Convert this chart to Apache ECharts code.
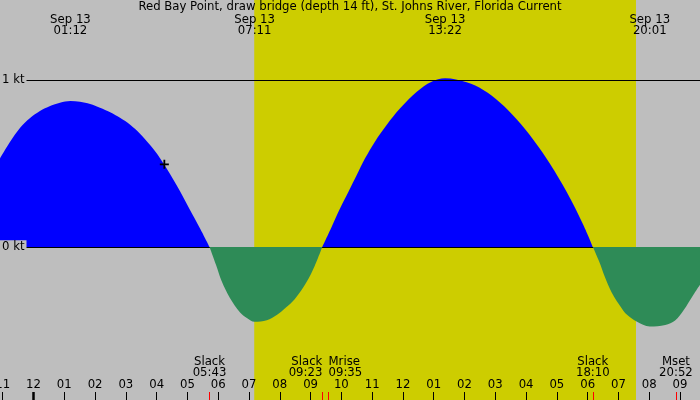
<!DOCTYPE html>
<html><head><meta charset="utf-8">
<script src="https://cdn.jsdelivr.net/npm/echarts@6/dist/echarts.min.js"></script>
<style>html,body{margin:0;padding:0;background:#bebebe}#c{width:700px;height:400px}</style>
</head><body><div id="c"></div>
<script>
// ---- data (hours from midnight, Sep 13) ----
const chartTitle = 'Red Bay Point, draw bridge (depth 14 ft), St. Johns River, Florida Current';
const viewStart = -1.088, viewEnd = 21.649;
const speedMin = -0.916, speedMax = 1.479;
const times = [-1.09,-0.76,-0.44,-0.11,0.21,0.54,0.86,1.20,1.51,1.84,2.16,2.49,2.81,3.14,3.46,3.78,4.11,4.43,4.76,5.08,5.41,5.72,
  5.93,6.11,6.38,6.71,6.93,7.18,7.58,7.90,8.20,8.49,8.87,9.14,9.38,
  9.69,9.96,10.23,10.50,10.77,11.09,11.47,11.91,12.45,12.93,13.37,14.07,14.61,15.15,15.70,16.24,16.78,17.32,17.86,18.17,
  18.38,18.56,18.78,19.11,19.27,19.59,20.02,20.52,20.84,21.11,21.43,21.65];
const knots = [0.53,0.63,0.713,0.772,0.814,0.844,0.864,0.874,0.87,0.856,0.834,0.807,0.774,0.732,0.678,0.612,0.532,0.439,0.334,0.223,0.111,0,
  -0.108,-0.204,-0.305,-0.392,-0.425,-0.448,-0.438,-0.407,-0.362,-0.311,-0.21,-0.111,0,
  0.123,0.232,0.331,0.431,0.531,0.631,0.731,0.831,0.93,0.99,1.01,0.986,0.94,0.865,0.763,0.641,0.497,0.329,0.132,0,
  -0.09,-0.18,-0.272,-0.368,-0.404,-0.446,-0.476,-0.467,-0.44,-0.38,-0.287,-0.225];
const hourTicks = [-1,0,1,2,3,4,5,6,7,8,9,10,11,12,13,14,15,16,17,18,19,20,21];
const hourLabels = ['11','12','01','02','03','04','05','06','07','08','09','10','11','12','01','02','03','04','05','06','07','08','09'];
const midnightTicks = [0];
const daylight = [7.17, 19.57];
const extremeTimes = [1.2, 7.183, 13.367, 20.017];
const extremeLabels = ['01:12', '07:11', '13:22', '20:01'];
const extremeDate = 'Sep 13';
const eventTimes = [5.717, 9.383, 9.583, 18.167, 20.867];
const eventNames = ['Slack', 'Slack', 'Mrise', 'Slack', 'Mset'];
const eventLabels = ['05:43', '09:23', '09:35', '18:10', '20:52'];
const nowPoint = [4.25, 0.495];
const speedLines = [0, 1];

// ---- chart ----
const FONT = "'DejaVu Sans Condensed', 'DejaVu Sans', sans-serif";
const FS = 13;
const txt = {fontFamily: FONT, fontSize: FS, color: '#000', lineHeight: 11.5};

function timeAxis(extra) {
  return Object.assign({
    type: 'value', min: viewStart, max: viewEnd, position: 'bottom', z: 10,
    axisLine: {show: false, onZero: false}, splitLine: {show: false},
    axisTick: {show: false}, axisLabel: {show: false}
  }, extra);
}
function eventLabelAxis(idxs, align) {
  const vals = idxs.map(i => eventTimes[i]);
  return timeAxis({
    axisLabel: Object.assign({show: true, inside: true, margin: 21.5, align: align, customValues: vals,
      formatter: v => { const i = eventTimes.indexOf(v); return eventNames[i] + '\n' + eventLabels[i]; }}, txt)
  });
}

const floodData = times.map((t, i) => knots[i] >= 0 ? [t, knots[i]] : [t, '-']);
const ebbData = times.map((t, i) => knots[i] <= 0 ? [t, knots[i]] : [t, '-']);

const chart = echarts.init(document.getElementById('c'));
chart.setOption({
  animation: false,
  backgroundColor: '#bebebe',
  title: {text: chartTitle, left: 'center', top: 1, padding: 0,
    textStyle: Object.assign({fontWeight: 'normal'}, txt)},
  grid: {left: 0, right: 0, top: 0, bottom: 0, containLabel: false, outerBoundsMode: 'none'},
  xAxis: [
    timeAxis({
      axisTick: {show: true, inside: true, length: 8, customValues: hourTicks, lineStyle: {color: '#000', width: 1}},
      axisLabel: Object.assign({show: true, inside: true, margin: 9.25, customValues: hourTicks,
        formatter: v => hourLabels[hourTicks.indexOf(v)]}, txt)
    }),
    timeAxis({axisTick: {show: true, inside: true, length: 8, customValues: midnightTicks, lineStyle: {color: '#000', width: 2.5}}}),
    timeAxis({axisTick: {show: true, inside: true, length: 8, customValues: eventTimes, lineStyle: {color: '#ff0000', width: 1}}}),
    eventLabelAxis([0, 3, 4], 'center'),
    eventLabelAxis([1], 'right'),
    eventLabelAxis([2], 'left'),
    timeAxis({position: 'top',
      axisLabel: Object.assign({show: true, inside: true, margin: 13.5, customValues: extremeTimes,
        formatter: v => extremeDate + '\n' + extremeLabels[extremeTimes.indexOf(v)]}, txt)})
  ],
  yAxis: {
    type: 'value', min: speedMin, max: speedMax, z: 10,
    axisLine: {show: false, onZero: false}, axisTick: {show: false}, splitLine: {show: false},
    axisLabel: Object.assign({inside: true, margin: 0, customValues: speedLines,
      formatter: v => v + ' kt', backgroundColor: '#bebebe', padding: [1, 2, 1, 2]}, txt)
  },
  series: [
    {type: 'line', name: 'flood', xAxisIndex: 0, data: floodData, smooth: 0.35, symbol: 'none', z: 2,
      lineStyle: {width: 0, opacity: 0}, areaStyle: {color: '#0000ff', opacity: 1},
      markArea: {silent: true, itemStyle: {color: '#cdcd00', opacity: 1},
        data: [[{xAxis: daylight[0]}, {xAxis: daylight[1]}]]},
      markLine: {silent: true, symbol: 'none', label: {show: false},
        lineStyle: {color: '#000', width: 1, type: 'solid'},
        data: speedLines.map(v => ({yAxis: v}))}
    },
    {type: 'line', name: 'ebb', xAxisIndex: 0, data: ebbData, smooth: 0.35, symbol: 'none', z: 6,
      lineStyle: {width: 0, opacity: 0}, areaStyle: {color: '#2e8b57', opacity: 1}},
    {type: 'scatter', name: 'now', xAxisIndex: 0, data: [nowPoint], z: 7, silent: true,
      symbol: 'path://M0,3.6L9,3.6L9,5.4L0,5.4Z M3.6,0L5.4,0L5.4,9L3.6,9Z', symbolSize: 9,
      itemStyle: {color: '#000', opacity: 1}}
  ]
});
</script></body></html>
